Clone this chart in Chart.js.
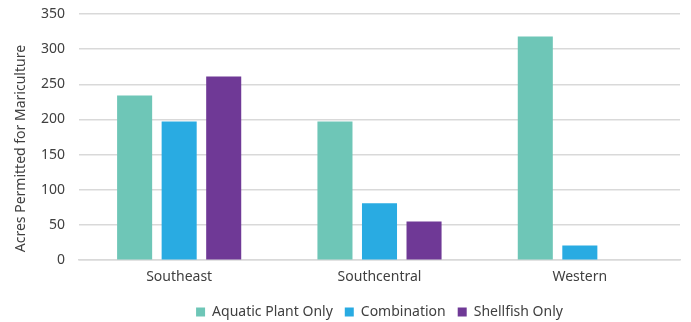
<!DOCTYPE html>
<html>
<head>
<meta charset="utf-8">
<script src="https://cdn.jsdelivr.net/npm/chart.js@4/dist/chart.umd.min.js"></script>
<style>
  html, body { margin: 0; padding: 0; background: #fff; }
  #wrap { width: 691px; height: 322px; position: relative; }
</style>
</head>
<body>
<div id="wrap"><canvas id="chart"></canvas></div>
<script>
// Regions and permitted acreage by permit type
const regions = ["Southeast", "Southcentral", "Western"];
const aquaticPlantOnly = [234, 197, 318];
const combination = [197, 81, 21];
const shellfishOnly = [261, 55, 0];
const yTicks = [0, 50, 100, 150, 200, 250, 300, 350];
const yTitle = "Acres Permitted for Mariculture";

const FONT = "'Noto Sans', sans-serif";
const TEXT = "#404040";
const GRID = "#d9d9d9";

// Center the legend under the plot area rather than the whole canvas
const legendUnderPlot = {
  id: "legendUnderPlot",
  afterLayout(chart) {
    const lg = chart.legend;
    if (!lg) return;
    lg.left = chart.chartArea.left;
    lg.right = chart.chartArea.right;
    lg.width = lg.right - lg.left;
  }
};

// Rotated y-axis title, set slightly below the plot's vertical middle
const yAxisTitle = {
  id: "yAxisTitle",
  afterDraw(chart) {
    const { ctx, chartArea } = chart;
    const cy = (chartArea.top + chartArea.bottom) / 2 + 11.5;
    ctx.save();
    ctx.translate(21.5, cy);
    ctx.rotate(-Math.PI / 2);
    ctx.fillStyle = TEXT;
    ctx.font = "14px " + FONT;
    ctx.textAlign = "center";
    ctx.textBaseline = "middle";
    ctx.fillText(yTitle, 0, 0);
    ctx.restore();
  }
};

new Chart(document.getElementById("chart"), {
  type: "bar",
  data: {
    labels: regions,
    datasets: [
      { label: "Aquatic Plant Only", data: aquaticPlantOnly, backgroundColor: "#6EC6B7" },
      { label: "Combination", data: combination, backgroundColor: "#29ABE2" },
      { label: "Shellfish Only", data: shellfishOnly, backgroundColor: "#6F3996" }
    ]
  },
  plugins: [legendUnderPlot, yAxisTitle],
  options: {
    responsive: true,
    maintainAspectRatio: false,
    animation: false,
    categoryPercentage: 0.667,
    barPercentage: 0.787,
    layout: { padding: { left: 0, right: 11, top: 14, bottom: -7 } },
    plugins: {
      legend: {
        position: "bottom",
        labels: {
          boxWidth: 9, boxHeight: 9, padding: 12,
          color: TEXT, font: { family: FONT, size: 14 }
        }
      },
      tooltip: { enabled: false }
    },
    scales: {
      x: {
        grid: { display: false, drawTicks: false },
        border: { display: true, color: GRID, width: 1.5 },
        ticks: { color: TEXT, font: { family: FONT, size: 14 }, padding: 8 }
      },
      y: {
        min: 0, max: 350,
        afterBuildTicks: (axis) => { axis.ticks = yTicks.map(v => ({ value: v })); },
        afterFit: (axis) => { axis.width = 79; axis.paddingTop = 0; axis.paddingBottom = 0; },
        grid: { color: GRID, lineWidth: 1.5, drawTicks: false },
        border: { display: false },
        ticks: { color: TEXT, font: { family: FONT, size: 14 }, padding: 14 }
      }
    }
  }
});
</script>
</body>
</html>
